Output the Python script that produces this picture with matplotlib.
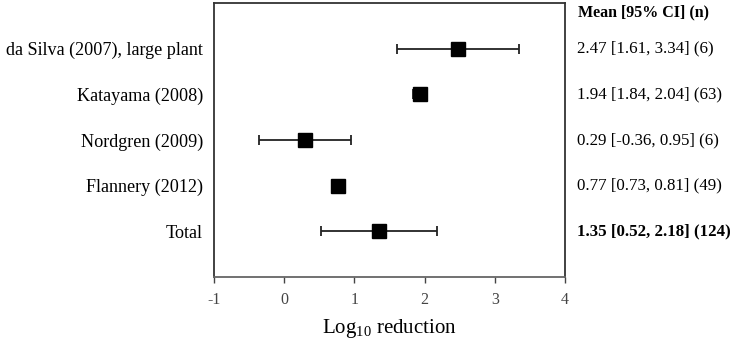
import matplotlib
matplotlib.use("Agg")
import matplotlib.pyplot as plt

studies = ["da Silva (2007), large plant", "Katayama (2008)", "Nordgren (2009)",
           "Flannery (2012)", "Total"]
means = [2.47, 1.94, 0.29, 0.77, 1.35]
lower = [1.61, 1.84, -0.36, 0.73, 0.52]
upper = [3.34, 2.04, 0.95, 0.81, 2.18]
ns = [6, 63, 6, 49, 124]
xticks = [-1, 0, 1, 2, 3, 4]

plt.rcParams['font.family'] = ['Liberation Serif', 'DejaVu Serif']

fig = plt.figure(figsize=(7.33, 3.41), dpi=100)
ax = fig.add_axes([214/733, 1-277/341, 351/733, 274/341])

ypos = list(range(len(studies), 0, -1))
xerr = [[m - l for m, l in zip(means, lower)], [u - m for m, u in zip(means, upper)]]
ax.errorbar(means, ypos, xerr=xerr, fmt='s', color='black', ecolor='#222222',
            markersize=10, elinewidth=1.3, capsize=3.5, capthick=1.3)

ax.set_xlim(-1, 4)
ax.set_ylim(0, len(studies) + 1)
ax.set_yticks(ypos)
ax.set_yticklabels(studies, fontsize=13.1)
ax.tick_params(axis='y', length=0, pad=8)
ax.set_xticks(xticks)
ax.set_xticklabels([str(t) for t in xticks], fontsize=11.5)
ax.tick_params(axis='x', length=4, width=1, direction='out', pad=7, colors='#444444')
for s in ax.spines.values():
    s.set_color('#333333')
    s.set_linewidth(1.3)
ax.spines['bottom'].set_color('#666666')

ax.set_xlabel(r'Log$_{\mathregular{10}}$ reduction', fontsize=15, labelpad=6)

fig.text(578/733, 1-12/341, 'Mean [95% CI] (n)', fontsize=11.5, fontweight='bold',
         va='center', ha='left')
for i, (m, l, u, n) in enumerate(zip(means, lower, upper, ns)):
    y = ypos[i]
    txt = f'{m:.2f} [{l:.2f}, {u:.2f}] ({n})'
    bold = studies[i] == 'Total'
    ax.text(1.035, y, txt, transform=ax.get_yaxis_transform(), fontsize=12.2,
            fontweight='bold' if bold else 'normal', va='center', ha='left')

fig.savefig('out.png', dpi=100)
